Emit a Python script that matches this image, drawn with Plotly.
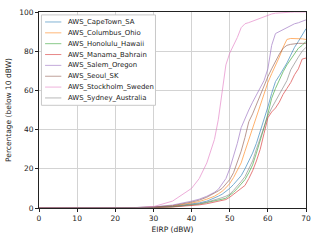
import plotly.graph_objects as go

X = [0, 20, 25, 30, 35, 40, 42, 44, 46, 47, 48, 49, 50, 51, 52, 53, 54, 55, 56, 57, 58, 59, 60,
     61, 62, 63, 64, 65, 66, 67, 68, 69, 70]

cape_town = [0, 0, 0.1, 0.3, 0.8, 2, 2.6, 3.5, 5, 6, 7, 8.5, 10, 12, 14, 16.5, 20, 24, 28, 33, 39, 44.5,
             51.5, 58.5, 64.5, 67.5, 70.5, 74, 78, 82, 85, 88, 91.5]
columbus = [0, 0, 0.1, 0.4, 1, 2.5, 3.3, 4.5, 6, 7.2, 8.5, 10.3, 12.5, 15.5, 19, 23, 29, 35, 41, 46, 52,
            58.5, 64, 68.5, 72.5, 77, 82, 86, 86.5, 86.5, 86.5, 86.3, 86]
honolulu = [0, 0, 0.05, 0.3, 0.6, 1.5, 2, 2.8, 3.5, 4, 4.5, 5, 6.5, 8, 10, 12, 14.5, 18, 22, 28, 34, 41,
            48, 56, 61, 65.5, 69.5, 73, 76, 79, 81.5, 83, 85]
manama = [0, 0, 0.05, 0.2, 0.5, 1.2, 1.6, 2.2, 3, 3.4, 3.8, 4.3, 5.5, 7, 8.5, 10, 11.5, 15, 19, 24, 30,
          38, 46, 49, 51, 54, 58, 61, 64, 68, 71, 76, 76.5]
salem = [0, 0, 0.2, 0.6, 1.5, 3.5, 4.5, 6, 8, 9.5, 12, 15, 20, 26, 33, 41, 46, 50, 54, 57.5, 61.5, 65,
         71, 83, 89, 90, 91, 92, 93, 94, 94.5, 95.2, 96]
seoul = [0, 0, 0.2, 0.5, 1.2, 3, 4, 5.5, 7.5, 8.7, 10, 12, 14.5, 18, 23, 29, 36, 44, 48, 53, 58, 62.5,
         67, 71, 75, 78.5, 81.5, 83, 83.5, 83.8, 84, 84, 84]
stockholm = [0, 0, 0.1, 0.7, 3.5, 10, 15, 23, 35, 45, 60, 73, 79, 83, 87, 92, 94, 94.6, 95.3, 96.1,
             96.9, 97.7, 98.5, 99, 99.4, 99.6, 99.7, 99.8, 99.9, 100, 100, 100, 100]
sydney = [0, 0, 0.05, 0.3, 0.7, 1.6, 2.2, 3, 4, 4.6, 5.3, 6, 7, 9, 11, 13.5, 16, 20, 24, 30, 36, 42,
          47, 51, 54.5, 58, 61, 65, 70.5, 74, 77, 80, 82]

names = ["AWS_CapeTown_SA", "AWS_Columbus_Ohio", "AWS_Honolulu_Hawaii", "AWS_Manama_Bahrain",
         "AWS_Salem_Oregon", "AWS_Seoul_SK", "AWS_Stockholm_Sweden", "AWS_Sydney_Australia"]
series = [cape_town, columbus, honolulu, manama, salem, seoul, stockholm, sydney]
colors = ["#1f77b4", "#ff7f0e", "#2ca02c", "#d62728", "#9467bd", "#8c564b", "#e377c2", "#7f7f7f"]

W, H = 319, 240
ML, MR, MT, MB = 35.5, 10.7, 8, 29.7
PW, PH = W - ML - MR, H - MT - MB


def px(x):
    return (x - ML) / PW


def py(y):
    return (H - MB - y) / PH


fig = go.Figure()
for n, s, c in zip(names, series, colors):
    fig.add_trace(go.Scatter(x=X, y=s, name=n, mode="lines",
                             line=dict(color=c, width=1), opacity=0.6, showlegend=False))

# legend drawn as box + sample lines + text (matplotlib-like compact legend)
shapes = [dict(type="rect", xref="paper", yref="paper", x0=px(38), x1=px(154.5), y0=py(104.3), y1=py(11),
               line=dict(color="#c8c8c8", width=1), fillcolor="white", layer="above")]
annotations = []
for i, (n, c) in enumerate(zip(names, colors)):
    yc = 18.3 + i * 11.2
    shapes.append(dict(type="line", xref="paper", yref="paper", x0=px(41.7), x1=px(58.3), y0=py(yc), y1=py(yc),
                       line=dict(color=c, width=1), opacity=0.55, layer="above"))
    annotations.append(dict(text=n, xref="paper", yref="paper", x=px(63.5), y=py(yc), xanchor="left",
                            yanchor="middle", showarrow=False, font=dict(size=6.9, color="#222222")))

axis_common = dict(showline=True, linecolor="#222222", linewidth=1, mirror=True,
                   ticks="outside", ticklen=3, tickcolor="#222222",
                   showgrid=True, gridcolor="#d3d3d3", gridwidth=1, zeroline=False,
                   tickfont=dict(size=7.5, color="#222222"))

fig.update_layout(
    width=W, height=H,
    margin=dict(l=ML, r=MR, t=MT, b=MB, pad=0),
    paper_bgcolor="white", plot_bgcolor="white",
    font=dict(family="DejaVu Sans", size=7.5, color="#222222"),
    xaxis=dict(range=[0, 70], dtick=10, title=dict(text="EIRP (dBW)", font=dict(size=7.5), standoff=4),
               **axis_common),
    yaxis=dict(range=[0, 100], dtick=20, title=dict(text="Percentage (below 10 dBW)", font=dict(size=7.5), standoff=6),
               **axis_common),
    shapes=shapes,
    annotations=annotations,
    showlegend=False,
)

fig.write_html("out.html", config={"displayModeBar": False},
               post_script="document.body.style.margin='0';document.body.style.overflow='hidden';")
